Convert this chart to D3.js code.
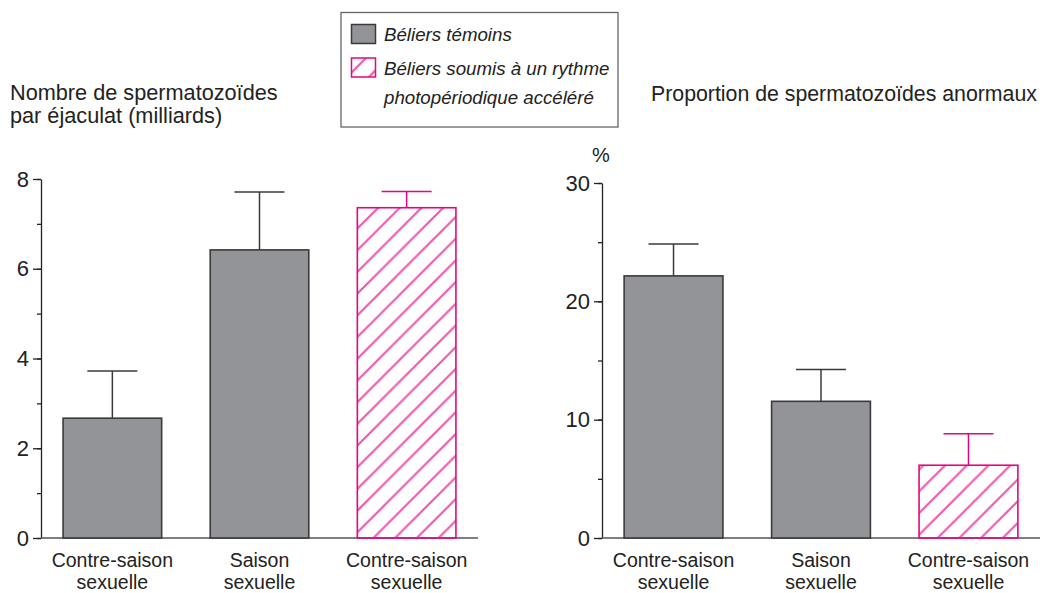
<!DOCTYPE html>
<html>
<head>
<meta charset="utf-8">
<script src="https://cdn.jsdelivr.net/npm/d3@7"></script>
<style>
	body	{ margin:0; background:white; }
	text	{ font-family:"Liberation Sans", Arial, Helvetica, sans-serif; fill:#222; }
</style>
</head>
<body>
<div id="chart"></div>
<script>
var	categories	= [["Contre-saison","sexuelle"],["Saison","sexuelle"],["Contre-saison","sexuelle"]],
	groups		= ["temoin","temoin","accelere"],
	spermCount	= [2.67, 6.42, 7.36],
	spermCountErr	= [1.05, 1.29, 0.36],
	abnormal	= [22.15, 11.55, 6.15],
	abnormalErr	= [2.7, 2.68, 2.67],
	leftTicks	= [0, 2, 4, 6, 8],
	rightTicks	= [0, 10, 20, 30],
	legendLabels	= [["Béliers témoins"],["Béliers soumis à un rythme","photopériodique accéléré"]];

var	W = 1047, H = 593,
	gray = "#939498", grayStroke = "#3a3a3a",
	pink = "#e5067f", hatch = "#ee5aac";

var svg = d3.select("#chart").append("svg").attr("width", W).attr("height", H);

var defs = svg.append("defs");
defs.append("pattern").attr("id", "hatch").attr("patternUnits", "userSpaceOnUse")
	.attr("width", 21.7).attr("height", 21.7)
	.append("path").attr("d", "M0,21.7L21.7,0M-5,5L5,-5M16.7,26.7L26.7,16.7")
	.attr("stroke", hatch).attr("stroke-width", 2.2);

function fillOf(g)   { return g=="temoin" ? gray : "url(#hatch)"; }
function strokeOf(g) { return g=="temoin" ? grayStroke : pink; }

function panel(x0, x1, yMax, values, errs, majors, minorStep) {
	var	x = d3.scaleBand().domain(d3.range(values.length)).range([x0, x1]).paddingInner(0.33).paddingOuter(0.15),
		y = d3.scaleLinear().domain([0, yMax]).range([538, yMax==8 ? 179 : 183]),
		g = svg.append("g");

	// minor ticks
	g.append("g").attr("transform", "translate("+x0+",0)")
		.call(d3.axisLeft(y).tickValues(d3.range(0, yMax+0.001, minorStep)).tickSize(4).tickFormat(""))
		.call(function(a){ a.select(".domain").remove(); a.selectAll("line").attr("stroke","#222").attr("stroke-width",1.3); });
	// major ticks + labels
	g.append("g").attr("transform", "translate("+x0+",0)")
		.call(d3.axisLeft(y).tickValues(majors).tickSize(8).tickSizeOuter(0).tickPadding(4))
		.call(function(a){
			a.select(".domain").attr("stroke","#222").attr("stroke-width",1.3);
			a.selectAll("line").attr("stroke","#222").attr("stroke-width",1.3);
			a.selectAll("text").style("font-size","22px").attr("fill","#222").attr("font-family",null);
		});
	// baseline
	g.append("line").attr("x1", x0).attr("x2", x1).attr("y1", y(0)).attr("y2", y(0))
		.attr("stroke", "#555").attr("stroke-width", 1.5);

	// error bars
	var eb = g.selectAll(".err").data(values).enter().append("g");
	eb.append("line").attr("x1", function(d,i){return x(i)+x.bandwidth()/2;}).attr("x2", function(d,i){return x(i)+x.bandwidth()/2;})
		.attr("y1", function(d){return y(d);}).attr("y2", function(d,i){return y(d+errs[i]);})
		.attr("stroke", function(d,i){return strokeOf(groups[i]);}).attr("stroke-width", 1.5);
	eb.append("line").attr("x1", function(d,i){return x(i)+x.bandwidth()/2-25;}).attr("x2", function(d,i){return x(i)+x.bandwidth()/2+25;})
		.attr("y1", function(d,i){return y(d+errs[i]);}).attr("y2", function(d,i){return y(d+errs[i]);})
		.attr("stroke", function(d,i){return strokeOf(groups[i]);}).attr("stroke-width", 1.5);

	// bars
	g.selectAll(".bar").data(values).enter().append("rect")
		.attr("x", function(d,i){return x(i);}).attr("width", x.bandwidth())
		.attr("y", function(d){return y(d);}).attr("height", function(d){return y(0)-y(d);})
		.attr("fill", function(d,i){return fillOf(groups[i]);})
		.attr("stroke", function(d,i){return strokeOf(groups[i]);}).attr("stroke-width", 1.6);

	// category labels
	var lbl = g.selectAll(".cat").data(categories).enter().append("text")
		.attr("text-anchor", "middle").style("font-size", "19.5px")
		.attr("transform", function(d,i){return "translate("+(x(i)+x.bandwidth()/2)+",567)";});
	lbl.selectAll("tspan").data(function(d){return d;}).enter().append("tspan")
		.attr("x", 0).attr("y", function(d,j){return j*22;}).text(function(d){return d;});
	return g;
}

panel(41, 478, 8, spermCount, spermCountErr, leftTicks, 1);
panel(602, 1040, 30, abnormal, abnormalErr, rightTicks, 5);

// titles
svg.append("text").attr("x", 10).attr("y", 100).style("font-size", "21.7px").text("Nombre de spermatozoïdes");
svg.append("text").attr("x", 10).attr("y", 123).style("font-size", "21.7px").text("par éjaculat (milliards)");
svg.append("text").attr("x", 651).attr("y", 101).style("font-size", "21.3px").text("Proportion de spermatozoïdes anormaux");
svg.append("text").attr("x", 601).attr("y", 162).attr("text-anchor", "middle").style("font-size", "20px").text("%");

// legend
var legend = svg.append("g");
legend.append("rect").attr("x", 341).attr("y", 12.5).attr("width", 277).attr("height", 114.5)
	.attr("fill", "white").attr("stroke", "#666").attr("stroke-width", 1.3);
var items = legend.selectAll(".item").data(legendLabels).enter().append("g")
	.attr("transform", function(d,i){return "translate(0,"+(i*33.5)+")";});
items.append("rect").attr("x", 351.5).attr("y", 24.5).attr("width", 24).attr("height", 19)
	.attr("fill", function(d,i){return i==0 ? gray : "url(#hatch)";})
	.attr("stroke", function(d,i){return i==0 ? grayStroke : pink;}).attr("stroke-width", 1.5);
items.append("text").style("font-size", "18.7px").style("font-style", "italic")
	.selectAll("tspan").data(function(d){return d;}).enter().append("tspan")
	.attr("x", 384).attr("y", function(d,j){return 41+j*29;}).text(function(d){return d;});
</script>
</body>
</html>
